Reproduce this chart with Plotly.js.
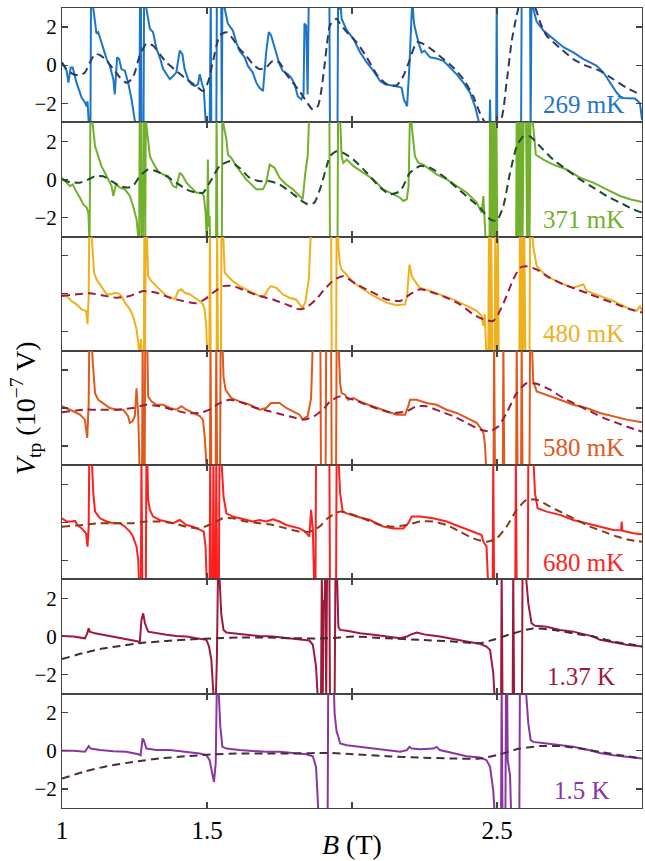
<!DOCTYPE html>
<html>
<head>
<meta charset="utf-8">
<script src="https://cdn.plot.ly/plotly-3.0.1.min.js"></script>
<style>html,body{margin:0;padding:0;background:#fff;}#chart{width:645px;height:861px;}</style>
</head>
<body>
<div id="chart"></div>
<script>
// ---------- data ----------
const labels = ['269 mK', '371 mK', '480 mK', '580 mK', '680 mK', '1.37 K', '1.5 K'];
const xTickVals = [1, 1.5, 2.5, 3];
const xTickText = ['1', '1.5', '2.5', '3'];
const xMinorVals = [2];
const yTickVals = [-2, 0, 2];
const yTickText = ['\u22122', '0', '2'];

// 269 mK
const p1x = [1.0,1.016,1.022,1.03,1.037,1.05,1.068,1.08,1.085,1.088,1.094,1.098,1.1,1.106,1.108,1.119,1.125,1.142,1.154,1.165,1.177,1.182,1.19,1.197,1.205,1.217,1.228,1.24,1.251,1.257,1.267,1.269,1.272,1.274,1.281,1.283,1.289,1.291,1.303,1.314,1.326,1.337,1.349,1.36,1.372,1.383,1.394,1.406,1.415,1.423,1.435,1.446,1.458,1.469,1.475,1.482,1.489,1.495,1.498,1.509,1.511,1.513,1.515,1.532,1.534,1.549,1.551,1.553,1.556,1.561,1.572,1.589,1.601,1.612,1.63,1.641,1.658,1.67,1.681,1.693,1.704,1.713,1.721,1.739,1.75,1.761,1.779,1.79,1.802,1.813,1.825,1.833,1.836,1.842,1.847,1.851,1.922,1.924,1.95,1.952,1.956,1.959,1.964,1.982,2.005,2.028,2.051,2.074,2.097,2.114,2.137,2.16,2.171,2.179,2.19,2.198,2.206,2.208,2.212,2.215,2.229,2.24,2.25,2.269,2.292,2.315,2.338,2.361,2.384,2.407,2.424,2.436,2.44,2.474,2.476,2.478,2.497,2.499,2.501,2.583,2.585,2.614,2.616,2.619,2.625,2.637,2.66,2.694,2.729,2.763,2.798,2.821,2.844,2.867,2.89,2.913,2.93,2.976,2.993,3.0];
const p1y = [0.14,-0.3,-0.92,-0.12,-0.12,-0.92,-1.72,-1.98,-2.16,-1.9,-3.5,-3.5,3.5,3.5,2.97,1.65,1.73,0.85,0.32,-0.04,-0.74,-1.54,0.41,0.32,-0.21,-0.3,-0.92,-1.8,-2.87,-3.5,-3.5,3.5,3.5,-3.5,-3.5,3.5,3.5,2.97,1.91,1.73,0.85,0.41,-0.21,-0.48,-0.74,-0.57,-0.39,0.76,0.58,-0.21,-0.74,-1.0,-1.1,-1.0,-0.48,-0.92,-1.27,-2.87,-3.5,-3.5,3.5,3.5,-3.5,-3.5,3.5,3.5,-3.5,3.5,3.5,2.97,2.18,1.82,1.2,0.76,0.41,-0.04,-0.39,-0.92,-1.19,-1.36,0.67,1.73,1.56,0.58,0.05,-0.3,-0.48,-0.65,-1.0,-1.63,-1.8,-1.54,2.18,2.09,-1.54,3.5,3.5,-3.5,-3.5,3.5,2.9,3.5,2.44,1.82,1.38,0.67,0.14,-0.3,-0.83,-1.0,-1.06,-1.13,-1.19,-1.8,-2.16,-0.04,2.8,3.5,2.5,2.09,1.2,0.67,0.76,0.41,0.35,0.23,-0.12,-0.48,-0.92,-1.45,-2.16,-2.87,-3.5,-3.5,-1.8,-3.5,-3.5,3.5,-3.5,-3.5,3.5,3.5,-3.5,3.5,2.97,2.27,1.82,1.38,0.94,0.67,0.32,0.14,-0.04,-0.39,-0.92,-1.45,-1.72,-1.75,-2.0,-2.87];
const d1x = [1.0,1.016,1.039,1.062,1.079,1.096,1.114,1.131,1.154,1.177,1.2,1.222,1.24,1.251,1.268,1.291,1.314,1.337,1.36,1.394,1.429,1.463,1.486,1.503,1.521,1.544,1.567,1.589,1.612,1.635,1.658,1.681,1.704,1.727,1.75,1.773,1.796,1.819,1.842,1.865,1.882,1.893,1.905,1.916,1.924,1.947,1.958,1.982,2.016,2.051,2.085,2.12,2.154,2.177,2.2,2.223,2.246,2.28,2.315,2.349,2.384,2.418,2.441,2.464,2.51,2.533,2.55,2.568,2.58,2.605,2.63,2.65,2.671,2.717,2.763,2.809,2.855,2.901,2.947,2.993];
const d1y = [0.14,-0.21,-0.48,-0.53,-0.39,0.14,0.58,0.53,0.23,-0.21,-0.65,-0.92,-0.74,-0.39,0.5,1.12,1.03,0.58,0.14,-0.3,-0.74,-1.1,-1.36,-0.92,0.23,1.56,1.73,1.38,0.85,0.5,0.05,-0.21,-0.12,0.23,0.14,-0.48,-0.92,-1.36,-1.89,-2.34,-2.16,-1.45,-0.04,1.38,2.09,2.44,2.18,1.73,1.2,0.41,-0.48,-1.0,-1.06,-0.57,0.32,1.2,1.12,0.76,0.32,-0.12,-0.74,-1.63,-2.51,-3.1,-3.0,-0.92,1.2,2.62,3.3,3.7,3.1,2.2,1.55,0.9,0.32,-0.04,-0.3,-0.74,-1.19,-1.54];

// 371 mK
const p2x = [1.0,1.016,1.028,1.037,1.045,1.062,1.073,1.085,1.091,1.095,1.098,1.103,1.106,1.114,1.125,1.136,1.148,1.159,1.171,1.177,1.186,1.2,1.217,1.234,1.245,1.257,1.266,1.268,1.272,1.274,1.279,1.281,1.285,1.287,1.289,1.291,1.303,1.314,1.331,1.349,1.366,1.383,1.394,1.406,1.417,1.429,1.446,1.463,1.481,1.489,1.495,1.5,1.503,1.506,1.509,1.511,1.531,1.533,1.536,1.551,1.553,1.557,1.567,1.572,1.584,1.601,1.618,1.635,1.653,1.67,1.693,1.704,1.716,1.733,1.75,1.773,1.796,1.819,1.83,1.839,1.847,1.853,1.922,1.924,1.95,1.952,1.957,1.96,1.964,1.97,1.982,2.005,2.039,2.074,2.108,2.143,2.166,2.177,2.189,2.195,2.2,2.204,2.206,2.217,2.229,2.246,2.269,2.292,2.327,2.361,2.396,2.43,2.447,2.453,2.458,2.462,2.474,2.476,2.479,2.483,2.487,2.49,2.494,2.498,2.501,2.566,2.568,2.572,2.576,2.58,2.584,2.588,2.592,2.6,2.604,2.608,2.612,2.616,2.622,2.625,2.634,2.66,2.694,2.74,2.786,2.832,2.878,2.924,2.959,3.0];
const p2y = [0.09,-0.17,-0.35,-0.26,-0.52,-0.96,-1.3,-1.48,-1.74,-3.5,3.5,3.5,2.87,1.74,1.22,0.7,0.35,0.0,-0.35,-0.87,-0.26,-0.43,-0.52,-0.87,-1.39,-2.09,-3.5,3.5,3.5,-3.5,-3.5,3.5,3.5,-3.5,3.5,2.87,1.22,0.87,0.43,0.26,0.17,-0.35,-0.43,0.35,0.17,-0.17,-0.43,-0.7,-0.7,-0.87,-1.74,-3.5,1.04,-2.5,-1.91,-3.5,-3.5,3.5,-3.5,-3.5,3.5,2.87,2.09,1.3,1.13,0.7,0.35,0.0,-0.26,-0.52,-0.52,-0.17,0.78,0.61,0.09,-0.26,-0.52,-0.87,-1.04,0.35,1.22,3.5,3.5,-3.5,-3.5,3.5,3.5,2.87,1.22,0.87,1.04,0.7,0.35,0.0,-0.52,-0.78,-0.96,-1.13,-1.04,-0.35,3.5,3.5,2.78,1.22,0.87,0.78,0.52,0.26,0.0,-0.35,-0.7,-1.22,-1.74,-0.87,-2.78,-3.5,-3.5,3.5,-3.5,3.5,-3.5,3.5,-3.5,3.5,-3.5,-3.5,3.5,-3.5,3.5,-3.5,3.5,-3.5,3.5,3.5,-3.5,3.5,-3.5,3.5,3.5,2.78,1.3,1.04,0.78,0.52,0.09,-0.17,-0.52,-0.87,-1.04,-1.18];
const d2x = [1.0,1.028,1.062,1.091,1.114,1.142,1.171,1.2,1.228,1.245,1.268,1.297,1.326,1.36,1.394,1.429,1.463,1.486,1.509,1.544,1.578,1.612,1.647,1.681,1.716,1.75,1.784,1.819,1.847,1.87,1.893,1.916,1.924,1.947,1.97,2.005,2.051,2.097,2.131,2.166,2.2,2.235,2.269,2.315,2.361,2.407,2.441,2.476,2.499,2.522,2.545,2.568,2.591,2.614,2.648,2.694,2.74,2.786,2.832,2.878,2.924,2.97,3.0];
const d2y = [0,-0.14,-0.17,0,0.17,0.17,-0.09,-0.35,-0.43,-0.35,0.17,0.52,0.43,0.17,-0.17,-0.52,-0.7,-0.7,-0.17,0.7,0.96,0.61,0.09,-0.09,-0.09,-0.26,-0.61,-1.04,-1.3,-1.22,-0.35,0.87,1.22,1.48,1.39,1.04,0.35,-0.43,-0.78,-0.61,0.35,0.7,0.61,0.17,-0.43,-1.04,-1.48,-2.09,-2.17,-1.39,0.35,1.74,2.26,2.26,1.74,1.04,0.52,0,-0.43,-0.87,-1.22,-1.57,-1.74];

// 480 mK
const p3x = [1.0,1.016,1.033,1.05,1.068,1.083,1.088,1.092,1.094,1.1,1.104,1.106,1.111,1.119,1.131,1.142,1.154,1.171,1.182,1.194,1.205,1.217,1.234,1.245,1.257,1.263,1.268,1.272,1.276,1.282,1.284,1.286,1.289,1.292,1.295,1.297,1.308,1.326,1.343,1.36,1.377,1.389,1.4,1.412,1.423,1.44,1.458,1.475,1.486,1.492,1.498,1.501,1.508,1.51,1.513,1.533,1.535,1.538,1.548,1.55,1.555,1.558,1.561,1.572,1.589,1.612,1.635,1.658,1.681,1.698,1.71,1.721,1.739,1.761,1.784,1.807,1.819,1.828,1.839,1.851,1.859,1.928,1.93,1.945,1.947,1.951,1.953,1.958,1.964,1.975,2.005,2.039,2.074,2.12,2.154,2.183,2.19,2.198,2.206,2.217,2.234,2.269,2.303,2.349,2.396,2.43,2.447,2.453,2.458,2.464,2.47,2.472,2.476,2.48,2.484,2.492,2.494,2.498,2.503,2.506,2.577,2.579,2.583,2.587,2.59,2.594,2.598,2.612,2.614,2.62,2.625,2.637,2.671,2.717,2.763,2.798,2.809,2.855,2.901,2.947,2.982,2.993,3.0];
const p3y = [-0.03,-0.12,-0.38,-0.56,-0.82,-0.9,-1.6,-0.12,3.5,3.5,2.6,1.97,1.1,0.75,0.49,0.23,-0.03,-0.03,0.05,0.02,-0.12,-0.47,-0.82,-1.17,-1.86,-2.56,-3.5,-2.38,-3.5,-3.5,3.5,-3.5,3.5,3.5,1.6,0.92,0.66,0.4,0.14,-0.12,-0.21,-0.3,0.14,0.23,0.05,-0.03,-0.21,-0.38,-0.56,-0.82,-1.86,-3.5,-3.5,3.5,-3.5,-3.5,3.5,-3.5,-3.5,3.5,3.5,1.8,1.1,0.92,0.66,0.4,0.23,0.05,-0.12,-0.12,0.23,0.4,0.31,-0.03,-0.21,-0.3,-0.56,-0.73,-0.47,0.75,3.5,3.5,-3.5,-3.5,3.5,3.5,2.49,1.6,1.27,1.1,0.57,0.23,-0.12,-0.47,-0.61,-0.56,-0.12,1.53,0.92,0.66,0.31,0.14,-0.03,-0.3,-0.64,-0.9,-1.17,-1.69,-1.08,-3.5,-3.5,3.5,-3.5,3.5,-3.5,-3.5,3.5,-3.5,3.5,-3.5,-3.5,3.5,-3.5,3.5,-3.5,3.5,-3.5,-3.5,3.5,3.5,2.49,1.44,0.92,0.57,0.31,0.49,0.14,-0.12,-0.38,-0.73,-0.9,-0.64,-0.9];
const d3x = [1.0,1.05,1.096,1.142,1.188,1.234,1.28,1.326,1.372,1.417,1.463,1.492,1.521,1.555,1.589,1.635,1.681,1.727,1.773,1.819,1.842,1.876,1.905,1.94,1.97,2.016,2.062,2.12,2.166,2.2,2.235,2.28,2.326,2.372,2.418,2.453,2.487,2.51,2.533,2.556,2.579,2.602,2.637,2.683,2.729,2.775,2.821,2.867,2.913,2.959,3.0];
const d3y = [-0.12,-0.03,0.02,-0.09,-0.21,-0.12,0.14,0.05,-0.21,-0.38,-0.5,-0.3,0.05,0.4,0.4,0.14,-0.12,-0.3,-0.56,-0.82,-0.73,-0.3,0.23,0.75,0.92,0.49,0.14,-0.3,-0.38,-0.03,0.23,0.05,-0.21,-0.56,-1.08,-1.34,-1.43,-0.9,-0.12,0.75,1.36,1.44,1.27,0.83,0.49,0.23,-0.03,-0.3,-0.56,-0.82,-0.99];

// 580 mK
const p4x = [1.0,1.016,1.039,1.062,1.079,1.087,1.092,1.094,1.102,1.106,1.11,1.114,1.125,1.142,1.165,1.188,1.211,1.228,1.234,1.243,1.251,1.257,1.263,1.268,1.276,1.278,1.281,1.285,1.287,1.294,1.296,1.297,1.308,1.326,1.349,1.372,1.394,1.412,1.429,1.452,1.475,1.486,1.492,1.5,1.51,1.512,1.515,1.53,1.532,1.535,1.545,1.547,1.553,1.557,1.564,1.572,1.584,1.612,1.647,1.681,1.704,1.721,1.75,1.773,1.796,1.819,1.83,1.847,1.859,1.865,1.891,1.893,1.909,1.911,1.928,1.93,1.945,1.947,1.953,1.959,1.964,1.976,1.987,2.005,2.039,2.074,2.12,2.154,2.183,2.194,2.2,2.223,2.257,2.292,2.326,2.361,2.395,2.43,2.447,2.453,2.458,2.464,2.488,2.49,2.493,2.52,2.522,2.525,2.566,2.568,2.571,2.583,2.585,2.588,2.612,2.614,2.62,2.625,2.637,2.671,2.717,2.763,2.809,2.855,2.901,2.947,3.0];
const p4y = [0.09,0,-0.17,-0.35,-0.61,-1.57,0.26,3.5,3.5,2.4,1.65,0.78,0.43,0.26,0,-0.09,-0.09,-0.43,-0.78,-0.7,-0.43,1.04,-0.43,-3.5,-3.5,3.5,-3.5,-3.5,3.5,3.5,1.5,0.61,0.35,0.17,0.17,0,-0.09,0.09,-0.09,-0.26,-0.43,-0.61,-1.48,-3.5,-3.5,3.5,-3.5,-3.5,3.5,-3.5,-3.5,3.5,3.5,1.65,0.96,0.78,0.52,0.35,0.17,-0.09,0,0.26,0.26,0,-0.17,-0.35,-0.61,-0.43,0.52,3.5,3.5,-3.5,-3.5,3.5,3.5,-3.5,-3.5,3.5,3.5,1.3,0.78,0.7,0.43,0.52,0.26,0.09,-0.17,-0.35,-0.35,0.09,0.43,0.43,0.26,0.17,-0.09,-0.26,-0.52,-0.78,-1.13,-1.3,-1.83,-3.5,-3.5,3.5,-3.5,-3.5,3.5,-3.5,-3.5,3.5,-3.5,-3.5,3.5,-3.5,-3.5,3.5,3.5,1.39,0.87,0.7,0.43,0.17,0,-0.26,-0.43,-0.61,-0.75];
const d4x = [1.0,1.073,1.131,1.188,1.245,1.291,1.337,1.383,1.429,1.475,1.509,1.544,1.578,1.624,1.67,1.716,1.761,1.807,1.836,1.87,1.905,1.924,1.959,2.005,2.051,2.097,2.143,2.189,2.223,2.257,2.303,2.349,2.395,2.441,2.476,2.505,2.533,2.568,2.602,2.637,2.683,2.729,2.775,2.821,2.867,2.913,2.959,3.0];
const d4y = [-0.23,-0.09,-0.09,-0.09,0,0.17,0.09,-0.09,-0.26,-0.26,-0.09,0.26,0.43,0.26,0,-0.17,-0.35,-0.52,-0.61,-0.43,0,0.35,0.61,0.43,0.17,-0.09,-0.26,-0.17,0.09,0.09,-0.17,-0.43,-0.78,-1.13,-1.22,-0.96,-0.26,0.78,1.3,1.27,0.96,0.52,0.17,-0.17,-0.52,-0.78,-1.04,-1.24];

// 680 mK
const p5x = [1.0,1.016,1.033,1.045,1.053,1.068,1.083,1.088,1.092,1.094,1.102,1.108,1.114,1.131,1.154,1.177,1.2,1.217,1.234,1.245,1.257,1.263,1.266,1.272,1.274,1.277,1.289,1.291,1.294,1.297,1.303,1.314,1.337,1.36,1.383,1.406,1.429,1.452,1.475,1.489,1.495,1.5,1.509,1.511,1.514,1.52,1.522,1.525,1.53,1.532,1.535,1.541,1.543,1.549,1.557,1.567,1.589,1.612,1.635,1.658,1.681,1.704,1.727,1.75,1.773,1.796,1.819,1.839,1.853,1.859,1.865,1.87,1.874,1.876,1.922,1.924,1.945,1.947,1.953,1.959,1.968,1.982,2.016,2.062,2.108,2.143,2.177,2.194,2.206,2.235,2.28,2.326,2.372,2.418,2.447,2.453,2.464,2.47,2.485,2.487,2.49,2.563,2.565,2.568,2.606,2.608,2.625,2.631,2.64,2.671,2.717,2.763,2.809,2.855,2.901,2.928,2.93,2.932,2.97,3.0];
const p5y = [0.21,0.04,0.04,0.07,-0.14,-0.32,-0.58,-1.28,-0.23,3.5,3.5,1.53,0.56,0.21,0.04,-0.05,-0.05,-0.23,-0.49,-0.75,-1.28,-1.98,-3.5,-3.5,3.5,-3.5,-3.5,3.5,3.5,1.18,0.65,0.3,0.12,0.04,-0.05,0.12,-0.14,-0.23,-0.4,-0.49,-1.28,-3.5,-3.5,3.5,-3.5,-3.5,3.5,-3.5,-3.5,3.5,-3.5,-3.5,3.5,3.5,1.35,0.47,0.3,0.21,0.12,0.04,0.12,0.04,0.16,0.04,-0.14,-0.23,-0.32,-0.49,-0.75,0.65,-0.4,-3.5,-3.5,3.5,3.5,-3.5,-3.5,3.5,3.5,1.53,0.56,0.47,0.3,0.12,-0.23,-0.32,-0.32,-0.05,0.3,0.3,0.21,0.04,-0.23,-0.49,-0.67,-1.02,-1.28,-3.5,-3.5,3.5,-3.5,-3.5,3.5,-3.5,-3.5,3.5,3.5,1.53,0.74,0.56,0.39,0.12,-0.05,-0.23,-0.4,-0.42,0.04,-0.44,-0.58,-0.63];
const d5x = [1.0,1.073,1.131,1.188,1.245,1.291,1.337,1.383,1.429,1.475,1.521,1.555,1.589,1.635,1.681,1.727,1.773,1.819,1.853,1.888,1.916,1.959,2.005,2.051,2.097,2.143,2.189,2.235,2.28,2.326,2.372,2.418,2.464,2.499,2.533,2.568,2.602,2.637,2.683,2.729,2.775,2.821,2.867,2.913,2.959,3.0];
const d5y = [-0.23,-0.14,-0.05,-0.05,-0.05,0.04,0.04,-0.05,-0.23,-0.32,-0.05,0.21,0.21,0.04,-0.05,-0.14,-0.32,-0.49,-0.49,-0.23,0.21,0.56,0.39,0.12,-0.14,-0.23,-0.14,0.04,0.04,-0.14,-0.49,-0.84,-1.02,-0.84,-0.23,0.65,1.18,1.18,0.82,0.47,0.12,-0.23,-0.49,-0.75,-0.93,-1.02];

// 1.37 K
const p6x = [1.0,1.039,1.079,1.087,1.092,1.096,1.114,1.142,1.177,1.211,1.245,1.263,1.268,1.274,1.28,1.286,1.297,1.326,1.36,1.394,1.429,1.463,1.498,1.507,1.515,1.524,1.53,1.534,1.538,1.542,1.544,1.549,1.557,1.567,1.589,1.635,1.681,1.727,1.773,1.819,1.853,1.865,1.876,1.883,1.893,1.896,1.899,1.902,1.905,1.908,1.911,1.914,1.922,1.924,1.94,1.943,1.948,1.953,1.959,1.982,2.028,2.074,2.12,2.166,2.19,2.2,2.223,2.257,2.303,2.349,2.395,2.441,2.464,2.476,2.487,2.493,2.514,2.516,2.519,2.554,2.556,2.559,2.586,2.588,2.598,2.608,2.619,2.631,2.671,2.717,2.763,2.809,2.832,2.855,2.901,2.947,3.0];
const p6y = [0.03,0,-0.09,0.17,0.43,0.26,0.17,0.09,0,-0.09,-0.17,-0.26,-0.35,0.87,1.22,0.7,0.26,0.17,0.09,0.03,0,-0.09,-0.17,-0.52,-1.22,-3.5,-3.5,-1.22,3.5,3.5,2.61,1.22,0.35,0.21,0.17,0.09,0.03,0,-0.09,-0.17,-0.21,-0.43,-1.57,-3.5,-3.5,3.5,-3.5,1.91,1.5,3.5,-3.5,3.5,3.5,-3.5,-3.5,3.5,3.5,0.52,0.35,0.31,0.17,0.09,0,-0.09,0,0.09,0.21,0.09,0,-0.14,-0.26,-0.38,-0.52,-0.7,-1.91,-3.5,-3.5,3.5,-3.5,-3.5,3.5,-3.5,-3.5,3.5,3.5,1.74,0.7,0.57,0.52,0.35,0.26,0.09,0,-0.17,-0.31,-0.43,-0.52];
const d6x = [1.0,1.073,1.131,1.188,1.268,1.36,1.452,1.532,1.612,1.704,1.796,1.916,2.005,2.12,2.235,2.349,2.441,2.487,2.556,2.625,2.694,2.763,2.832,2.901,2.97,3.0];
const d6y = [-1.18,-0.87,-0.66,-0.52,-0.35,-0.23,-0.14,-0.09,-0.05,-0.05,-0.09,-0.09,0,-0.09,-0.17,-0.26,-0.35,-0.17,0.17,0.43,0.35,0.17,0,-0.26,-0.43,-0.52];

// 1.5 K
const p7x = [1.0,1.039,1.079,1.087,1.092,1.099,1.131,1.177,1.222,1.263,1.271,1.278,1.282,1.291,1.326,1.372,1.429,1.475,1.498,1.509,1.518,1.524,1.53,1.534,1.539,1.546,1.553,1.567,1.612,1.658,1.704,1.75,1.796,1.842,1.865,1.876,1.885,1.916,1.918,1.937,1.94,1.947,1.953,1.959,1.982,2.028,2.074,2.12,2.166,2.189,2.198,2.206,2.235,2.28,2.292,2.303,2.349,2.395,2.441,2.464,2.476,2.487,2.493,2.514,2.516,2.519,2.529,2.531,2.535,2.537,2.545,2.549,2.577,2.579,2.598,2.602,2.608,2.616,2.625,2.671,2.717,2.763,2.809,2.838,2.855,2.901,2.947,3.0];
const p7y = [0,0,-0.05,0.12,0.25,0.12,0.04,-0.02,-0.05,-0.18,-0.23,0.65,0.56,0.12,0.04,0.04,-0.05,-0.14,-0.23,-0.49,-1.19,-1.63,-0.67,3.5,3.5,1.26,0.21,0.12,0.04,0,-0.05,-0.05,-0.11,-0.18,-0.28,-0.84,-3.5,-3.5,3.5,3.5,1.96,1.0,0.74,0.39,0.3,0.21,0.12,0,-0.05,0.04,0.21,0.12,0.09,0.12,0.21,0.04,-0.14,-0.28,-0.35,-0.49,-0.84,-2.07,-3.5,-3.5,3.5,-3.5,-3.5,3.5,3.5,-0.5,-1.3,-3.5,-3.5,3.5,3.5,2.5,1.44,0.56,0.47,0.39,0.3,0.21,0.07,-0.05,-0.11,-0.23,-0.32,-0.4];
const d7x = [1.0,1.073,1.154,1.245,1.337,1.429,1.521,1.612,1.704,1.796,1.916,2.005,2.12,2.235,2.349,2.441,2.51,2.579,2.648,2.717,2.786,2.855,2.924,3.0];
const d7y = [-1.46,-1.11,-0.81,-0.58,-0.4,-0.28,-0.19,-0.14,-0.14,-0.14,-0.11,-0.18,-0.28,-0.35,-0.4,-0.4,-0.18,0.12,0.25,0.25,0.12,-0.05,-0.23,-0.4];

// ---------- styling ----------
const dataX = [p1x, p2x, p3x, p4x, p5x, p6x, p7x];
const dataY = [p1y, p2y, p3y, p4y, p5y, p6y, p7y];
const fitX = [d1x, d2x, d3x, d4x, d5x, d6x, d7x];
const fitY = [d1y, d2y, d3y, d4y, d5y, d6y, d7y];
const lineColors = ['#1c75c8', '#72b02c', '#efb01e', '#e0581c', '#ff1f1f', '#9e1a3c', '#8b35a3'];
const dashColors = ['#2e3a62', '#1c4a2c', '#9b1b42', '#9b1b42', '#8b3a14', '#4a2a2e', '#4a2a44'];
const showYLabels = [true, true, false, false, false, true, true];
const labelRightPx = [626, 626, 626, 626, 626, 617, 612];

const W = 645, H = 861, ML = 62, MR = 3, MT = 8, MB = 53;
const PW = W - ML - MR, PH = H - MT - MB;
const N = 7;
const FONT = 'Liberation Serif, Times New Roman, serif';
const AX = '#444444';

const traces = [];
const layout = {
  width: W, height: H,
  margin: {l: ML, r: MR, t: MT, b: MB, pad: 0},
  paper_bgcolor: '#ffffff', plot_bgcolor: '#ffffff',
  showlegend: false,
  font: {family: FONT, color: '#000'},
  annotations: []
};

for (let k = 0; k < N; k++) {
  const sfx = k === 0 ? '' : String(k + 1);
  const xa = 'x' + sfx, ya = 'y' + sfx;
  traces.push({x: dataX[k], y: dataY[k], xaxis: xa, yaxis: ya, type: 'scatter', mode: 'lines',
    line: {color: lineColors[k], width: 2}, hoverinfo: 'skip'});
  traces.push({x: fitX[k], y: fitY[k], xaxis: xa, yaxis: ya, type: 'scatter', mode: 'lines',
    line: {color: dashColors[k], width: 2, dash: '8px,5px', shape: 'spline', smoothing: 0.6}, hoverinfo: 'skip'});

  const top = 1 - k / N, bot = 1 - (k + 1) / N;
  layout['xaxis' + sfx] = {
    domain: [0, 1], anchor: ya, range: [1, 3],
    tickmode: 'array', tickvals: xTickVals, ticktext: xTickText,
    ticks: 'inside', ticklen: 6, tickwidth: 1.2, tickcolor: AX,
    minor: {tickmode: 'array', tickvals: xMinorVals, ticks: 'inside', ticklen: 6, tickwidth: 1.2, tickcolor: AX, showgrid: false},
    showline: true, linecolor: AX, linewidth: 1, mirror: 'ticks',
    showgrid: false, zeroline: false,
    showticklabels: k === N - 1,
    tickfont: {family: FONT, size: 25, color: '#000'}
  };
  if (k > 0) layout['xaxis' + sfx].matches = 'x';
  layout['yaxis' + sfx] = {
    domain: [bot, top], anchor: xa, range: [-3, 3],
    tickmode: 'array', tickvals: yTickVals, ticktext: yTickText,
    ticks: 'inside', ticklen: 6, tickwidth: 1.2, tickcolor: AX,
    showline: true, linecolor: AX, linewidth: 1, mirror: 'ticks',
    showgrid: false, zeroline: false,
    showticklabels: showYLabels[k],
    tickfont: {family: FONT, size: 21, color: '#000'}
  };

  const cy = (H - MB - (105 + k * 114.3)) / PH;
  layout.annotations.push({
    xref: 'paper', yref: 'paper', x: (labelRightPx[k] - ML) / PW, y: cy,
    xanchor: 'right', yanchor: 'middle', showarrow: false,
    text: labels[k], font: {family: FONT, size: 25, color: lineColors[k]}
  });
}

layout.annotations.push({
  xref: 'paper', yref: 'paper', x: (25 - ML) / PW, y: 0.5, textangle: -90,
  xanchor: 'center', yanchor: 'middle', showarrow: false,
  text: '<i>V</i><sub>tp</sub> (10<sup>\u22127</sup> V)', font: {family: FONT, size: 28, color: '#000'}
});
layout.annotations.push({
  xref: 'paper', yref: 'paper', x: (352 - ML) / PW, y: -37 / PH,
  xanchor: 'center', yanchor: 'middle', showarrow: false,
  text: '<i>B</i> (T)', font: {family: FONT, size: 28, color: '#000'}
});

Plotly.newPlot('chart', traces, layout, {staticPlot: true, displayModeBar: false});
</script>
</body>
</html>
